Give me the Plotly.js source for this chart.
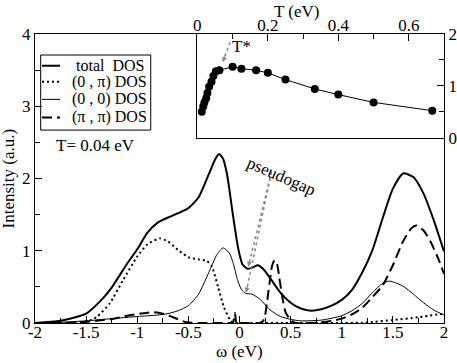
<!DOCTYPE html>
<html>
<head>
<meta charset="utf-8">
<script src="https://cdn.plot.ly/plotly-3.0.1.min.js"></script>
<style>
  body { margin: 0; padding: 0; background: #fff; }
  #plot1 { width: 457px; height: 363px; }
</style>
</head>
<body>
<div id="plot1"></div>
<script>
// main panel: DOS at T = 0.04 eV
let wTot = [-2, -1.75, -1.5, -1.35, -1.25, -1.1, -1.0, -0.9, -0.8, -0.7, -0.6, -0.5, -0.4, -0.3, -0.24, -0.2, -0.16, -0.125, -0.1, -0.075, -0.05, -0.025, 0, 0.03, 0.08, 0.13, 0.18, 0.23, 0.3, 0.4, 0.5, 0.6, 0.7, 0.8, 0.9, 1.0, 1.1, 1.2, 1.3, 1.4, 1.5, 1.6, 1.7, 1.8, 1.9, 2.0];
let dosTot = [0, 0.03, 0.13, 0.32, 0.49, 0.82, 1.02, 1.25, 1.39, 1.46, 1.52, 1.59, 1.74, 2.06, 2.26, 2.34, 2.27, 2.08, 1.86, 1.6, 1.36, 1.13, 0.95, 0.81, 0.75, 0.77, 0.80, 0.75, 0.62, 0.42, 0.28, 0.20, 0.17, 0.19, 0.24, 0.32, 0.46, 0.70, 1.01, 1.45, 1.86, 2.07, 2.02, 1.79, 1.42, 0.99];

let w0pi = [-2, -1.6, -1.5, -1.4, -1.27, -1.14, -1.0, -0.9, -0.78, -0.7, -0.6, -0.5, -0.4, -0.32, -0.27, -0.21, -0.15, -0.09, -0.05, 0, 0.5, 1.0, 1.2, 1.3, 1.5, 1.75, 2.0];
let dos0pi = [0, 0, 0.02, 0.08, 0.27, 0.59, 0.92, 1.09, 1.17, 1.13, 1.01, 0.91, 0.88, 0.86, 0.78, 0.50, 0.21, 0.04, 0, 0, 0, 0, 0.005, 0.015, 0.04, 0.08, 0.13];

let w00 = [-2, -1.75, -1.5, -1.25, -1.0, -0.8, -0.7, -0.6, -0.5, -0.4, -0.3, -0.22, -0.16, -0.1, -0.06, -0.02, 0.02, 0.06, 0.12, 0.2, 0.3, 0.4, 0.5, 0.6, 0.8, 1.0, 1.1, 1.2, 1.3, 1.4, 1.47, 1.6, 1.7, 1.8, 1.9, 2.0];
let dos00 = [0, 0.01, 0.03, 0.06, 0.09, 0.11, 0.13, 0.17, 0.24, 0.40, 0.70, 0.95, 1.04, 0.97, 0.82, 0.60, 0.46, 0.41, 0.40, 0.33, 0.18, 0.09, 0.05, 0.03, 0.04, 0.10, 0.17, 0.27, 0.42, 0.55, 0.58, 0.51, 0.40, 0.28, 0.18, 0.11];

let wpipi = [-2, -1.75, -1.56, -1.4, -1.23, -1.1, -0.97, -0.85, -0.75, -0.65, -0.52, -0.4, -0.1, -0.065, -0.045, -0.03, 0, 0.2, 0.24, 0.27, 0.3, 0.32, 0.345, 0.37, 0.39, 0.42, 0.45, 0.5, 0.55, 0.7, 0.8, 0.9, 1.0, 1.1, 1.2, 1.3, 1.4, 1.5, 1.6, 1.68, 1.73, 1.8, 1.87, 1.95, 2.0];
let dospipi = [0, 0, 0.01, 0.03, 0.06, 0.10, 0.13, 0.15, 0.13, 0.08, 0.01, 0, 0, 0, 0.14, 0, 0, 0, 0.05, 0.3, 0.62, 0.8, 0.87, 0.8, 0.62, 0.35, 0.15, 0.04, 0, 0, 0.01, 0.03, 0.06, 0.12, 0.21, 0.36, 0.52, 0.80, 1.13, 1.31, 1.35, 1.28, 1.12, 0.87, 0.68];

// inset: pseudogap depth vs temperature
let tInset = [0.0125, 0.0167, 0.02, 0.025, 0.0286, 0.0333, 0.04, 0.0455, 0.0526, 0.0625, 0.1, 0.125, 0.1667, 0.2, 0.25, 0.3333, 0.4, 0.5, 0.6667];
let valInset = [0.50, 0.60, 0.68, 0.76, 0.86, 0.98, 1.08, 1.19, 1.28, 1.30, 1.37, 1.33, 1.30, 1.25, 1.12, 0.94, 0.83, 0.68, 0.52];

let xTickVals = [-2, -1.5, -1, -0.5, 0, 0.5, 1, 1.5, 2];
let xTickText = ['-2', '-1.5', '-1', '-0.5', '0', '0.5', '1', '1.5', '2'];

let seriesNames = ['total\u00A0\u00A0DOS', '(0\u00A0,\u00A0\u03C0) DOS', '(0\u00A0,\u00A00) DOS', '(\u03C0\u00A0,\u00A0\u03C0) DOS'];
let seriesWidth = [2, 2, 1, 2];
let seriesDash = ['solid', '2px,3px', 'solid', '10px,5px'];

let serif = '"Liberation Serif", "Times New Roman", Times, serif';
let gray = '#888';

function curve(x, y, i) {
	return {
		x: x, y: y, name: seriesNames[i],
		type: 'scatter', mode: 'lines',
		line: {color: 'black', width: seriesWidth[i], dash: seriesDash[i], shape: 'spline', smoothing: 0.6},
		xaxis: 'x', yaxis: 'y', showlegend: false
	};
}

let traces = [
	curve(wTot, dosTot, 0),
	curve(w0pi, dos0pi, 1),
	curve(w00, dos00, 2),
	curve(wpipi, dospipi, 3),
	{
		x: tInset, y: valInset,
		type: 'scatter', mode: 'lines+markers',
		line: {color: 'black', width: 1},
		marker: {color: 'black', size: 8},
		xaxis: 'x2', yaxis: 'y2',
		showlegend: false
	}
];

let shapes = [
	// dotted shafts of the arrows
	{type: 'line', xref: 'x', yref: 'y', x0: 0.313, y0: 2.09, x1: 0.088, y1: 0.79, line: {color: gray, width: 1.5, dash: 'dot'}},
	{type: 'line', xref: 'x', yref: 'y', x0: 0.313, y0: 2.09, x1: 0.066, y1: 0.43, line: {color: gray, width: 1.5, dash: 'dot'}},
	{type: 'line', xref: 'x2', yref: 'y2', x0: 0.093, y0: 1.84, x1: 0.073, y1: 1.48, line: {color: gray, width: 1.5, dash: 'dot'}},
	// legend box
	{type: 'rect', xref: 'paper', yref: 'paper', x0: 0.0139, x1: 0.283, y0: 0.6675, y1: 0.9273,
		line: {color: 'black', width: 1}, fillcolor: 'white', layer: 'below'}
];

let annotations = [
	{xref: 'x', yref: 'y', x: -1.81, y: 2.45, xanchor: 'left', yanchor: 'middle',
		text: 'T= 0.04 eV', showarrow: false},
	{xref: 'x', yref: 'y', x: 0.413, y: 2.03, text: 'pseudogap', textangle: 23.5, showarrow: false},
	{xref: 'x2', yref: 'y2', x: 0.125, y: 1.75, text: 'T*', showarrow: false},
	// axis titles placed by hand so they sit as tight as in the original
	{xref: 'paper', yref: 'paper', x: 0.501, y: -0.1, yanchor: 'middle', text: '\u03C9 (eV)', showarrow: false},
	{xref: 'paper', yref: 'paper', x: -0.0636, y: 0.5, xanchor: 'center', yanchor: 'middle',
		text: 'Intensity (a.u.)', textangle: -90, showarrow: false},
	{xref: 'paper', yref: 'paper', x: 0.699, y: 1.079, yanchor: 'middle', text: 'T (eV)', showarrow: false},
	// arrow heads
	{xref: 'x', yref: 'y', x: 0.086, y: 0.78, text: '', showarrow: true, arrowhead: 2,
		arrowsize: 1, arrowwidth: 1, arrowcolor: gray, ax: 2.1, ay: -8.7},
	{xref: 'x', yref: 'y', x: 0.064, y: 0.42, text: '', showarrow: true, arrowhead: 2,
		arrowsize: 1, arrowwidth: 1, arrowcolor: gray, ax: 1.8, ay: -8.8},
	{xref: 'x2', yref: 'y2', x: 0.072, y: 1.46, text: '', showarrow: true, arrowhead: 2,
		arrowsize: 1, arrowwidth: 1, arrowcolor: gray, ax: 3.2, ay: -8.4}
];

// hand-made legend, rows sit tighter than plotly's own legend allows
let legRowY = [0.8902, 0.8348, 0.7738, 0.7115];
for (let i = 0; i < seriesNames.length; i++) {
	shapes.push({type: 'line', xref: 'paper', yref: 'paper', x0: 0.0171, x1: 0.0611,
		y0: legRowY[i], y1: legRowY[i], line: {color: 'black', width: seriesWidth[i], dash: seriesDash[i]}});
	annotations.push({xref: 'paper', yref: 'paper', x: (i == 0 ? 0.0954 : 0.0856), y: legRowY[i],
		xanchor: 'left', yanchor: 'middle', text: seriesNames[i], showarrow: false,
		font: {family: serif, size: 16, color: 'black'}});
}

function axisStyle(extra) {
	let a = {
		ticks: 'inside', ticklen: 7, tickcolor: 'black',
		showline: true, linecolor: 'black', linewidth: 1, mirror: true,
		showgrid: false, zeroline: false,
		tickfont: {family: serif, size: 17, color: 'black'}
	};
	for (let k in extra) a[k] = extra[k];
	return a;
}

let layout = {
	width: 457, height: 363,
	margin: {l: 35, r: 13, t: 34, b: 40},
	paper_bgcolor: 'white', plot_bgcolor: 'white',
	font: {family: serif, size: 17, color: 'black'},
	showlegend: false,
	xaxis: axisStyle({
		domain: [0, 1], range: [-2, 2],
		tickmode: 'array', tickvals: xTickVals, ticktext: xTickText,
		ticklabelstandoff: -6,
		minor: {tickmode: 'linear', tick0: -2, dtick: 0.25, ticks: 'inside', ticklen: 5, tickcolor: 'black'}
	}),
	yaxis: axisStyle({
		domain: [0, 1], range: [0, 4], dtick: 1,
		minor: {dtick: 0.5, ticks: 'inside', ticklen: 5, tickcolor: 'black'}
	}),
	xaxis2: axisStyle({
		domain: [0.397, 1], range: [0, 0.7], anchor: 'y2', side: 'top',
		dtick: 0.2, tick0: 0, ticklabelstandoff: -5,
		minor: {dtick: 0.1, ticks: 'inside', ticklen: 5, tickcolor: 'black'}
	}),
	yaxis2: axisStyle({
		domain: [0.6415, 1], range: [0, 2], anchor: 'x2', side: 'right',
		dtick: 1,
		minor: {dtick: 0.5, ticks: 'inside', ticklen: 5, tickcolor: 'black'}
	}),
	shapes: shapes,
	annotations: annotations
};

Plotly.newPlot('plot1', traces, layout, {staticPlot: true});
</script>
</body>
</html>
